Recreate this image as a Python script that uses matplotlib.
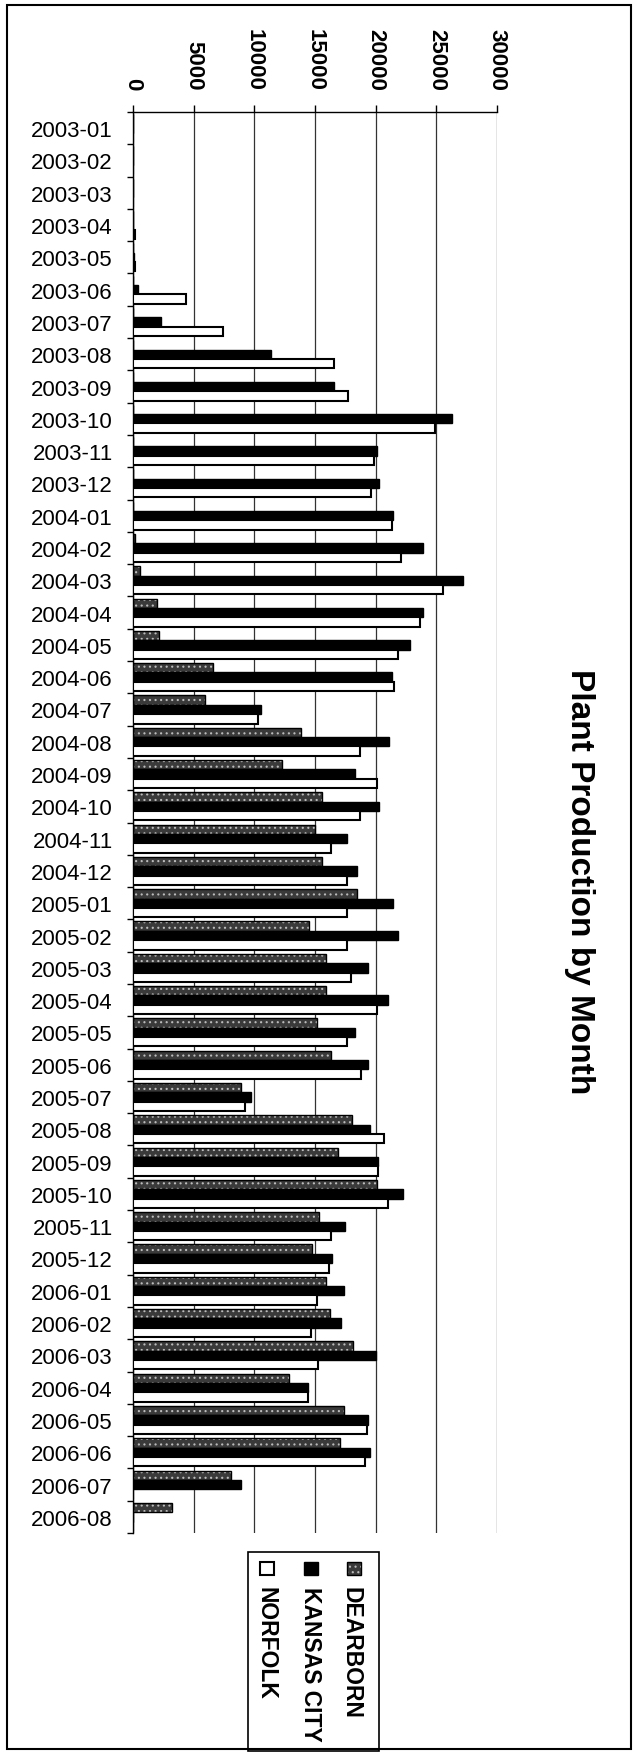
import matplotlib
matplotlib.use('Agg')
import matplotlib.pyplot as plt
import numpy as np
from matplotlib.patches import Rectangle

plt.rcParams['font.family'] = ['Liberation Sans', 'DejaVu Sans']
plt.rcParams['hatch.linewidth'] = 0.8

months = ['2003-01', '2003-02', '2003-03', '2003-04', '2003-05', '2003-06',
          '2003-07', '2003-08', '2003-09', '2003-10', '2003-11', '2003-12',
          '2004-01', '2004-02', '2004-03', '2004-04', '2004-05', '2004-06',
          '2004-07', '2004-08', '2004-09', '2004-10', '2004-11', '2004-12',
          '2005-01', '2005-02', '2005-03', '2005-04', '2005-05', '2005-06',
          '2005-07', '2005-08', '2005-09', '2005-10', '2005-11', '2005-12',
          '2006-01', '2006-02', '2006-03', '2006-04', '2006-05', '2006-06',
          '2006-07', '2006-08']

dearborn = [0, 0, 0, 0, 0, 0,
            0, 0, 0, 0, 0, 0,
            0, 150, 600, 1950, 2110, 6580,
            5910, 13830, 12250, 15600, 15040, 15600,
            18460, 14530, 15870, 15870, 15200, 16280,
            8930, 18090, 16910, 20100, 15340, 14730,
            15910, 16240, 18120, 12890, 17380, 17050,
            8050, 3190]

kansas_city = [0, 0, 0, 0, 100, 440,
               2280, 11400, 16580, 26280, 20070, 20240,
               21450, 23860, 27180, 23860, 22820, 21310,
               10570, 21110, 18320, 20240, 17620, 18490,
               21450, 21850, 19360, 20980, 18320, 19360,
               9730, 19570, 20200, 22220, 17450, 16440,
               17350, 17180, 20040, 14430, 19360, 19500,
               8930, 0]

norfolk = [0, 0, 0, 150, 150, 4360,
           7450, 16550, 17750, 24900, 19830, 19630,
           21340, 22080, 25570, 23660, 21880, 21550,
           10340, 18730, 20070, 18730, 16340, 17620,
           17620, 17620, 17950, 20070, 17620, 18830,
           9230, 20710, 20200, 21040, 16340, 16180,
           15170, 14670, 15240, 14400, 19300, 19130,
           0, 0]

value_ticks = [0, 5000, 10000, 15000, 20000, 25000, 30000]
series_names = ['DEARBORN', 'KANSAS CITY', 'NORFOLK']
title = 'Plant Production by Month'

W, H = 638, 1756
fig = plt.figure(figsize=(W / 100, H / 100), dpi=100)

def fx(px):
    return px / W

def fy(py):
    return 1 - py / H

ax_left, ax_right, ax_top, ax_bottom = 133, 497, 113, 1534
ax = fig.add_axes([fx(ax_left), fy(ax_bottom), (ax_right - ax_left) / W,
                   (ax_bottom - ax_top) / H])

y = np.arange(len(months))
bw = 0.29
dark_gray = '#3a3a3a'

# Dearborn: dark gray with light dots
ax.barh(y - bw, dearborn, height=bw, color=dark_gray, edgecolor='#bbbbbb',
        hatch='...', linewidth=0, zorder=2)
ax.barh(y - bw, dearborn, height=bw, fill=False, edgecolor='black',
        linewidth=1.0, zorder=3)
ax.barh(y, kansas_city, height=bw, color='black', edgecolor='black',
        linewidth=1.0, zorder=3)
ax.barh(y + bw, norfolk, height=bw, color='white', edgecolor='black',
        linewidth=1.5, zorder=3)

ax.set_xlim(0, 30000)
ax.set_ylim(len(months) - 0.5, -0.5)

ax.xaxis.tick_top()
ax.set_xticks(value_ticks)
ax.set_xticklabels([str(v) for v in value_ticks], fontsize=16,
                   fontweight='bold', rotation=-90)
ax.tick_params(axis='x', direction='out', length=5, width=1, pad=11,
               colors='black')

ax.set_yticks(y)
ax.set_yticklabels(months, fontsize=16)
ax.set_yticks(np.arange(len(months) + 1) - 0.5, minor=True)
ax.tick_params(axis='y', which='major', length=0, pad=14.5)
ax.tick_params(axis='y', which='minor', length=4.5, width=1, direction='out')

ax.set_axisbelow(True)
ax.grid(axis='x', color='#333333', linewidth=0.9, zorder=0)
ax.grid(axis='y', visible=False)
for side in ['right', 'bottom']:
    ax.spines[side].set_visible(False)
for side in ['left', 'top']:
    ax.spines[side].set_linewidth(1.0)
    ax.spines[side].set_color('black')

# Outer frame
fig.patches.append(Rectangle((fx(7), fy(1750)), (631 - 7) / W, (1750 - 6) / H,
                             transform=fig.transFigure, fill=False,
                             edgecolor='black', linewidth=1.5))

# Title (rotated)
fig.text(fx(580), fy(882), title, rotation=-90, ha='center', va='center',
         fontsize=24, fontweight='bold')

# Legend (rotated)
fig.patches.append(Rectangle((fx(248), fy(1752)), 131 / W, 199 / H,
                             transform=fig.transFigure, fill=False,
                             edgecolor='black', linewidth=1.2))
leg_x = [347, 304, 260]
txt_x = [351, 310, 266]
for i, name in enumerate(series_names):
    x0 = leg_x[i]
    rect_args = dict(xy=(fx(x0), fy(1576)), width=14 / W, height=13 / H,
                     transform=fig.transFigure)
    if i == 0:
        fig.patches.append(Rectangle(**rect_args, facecolor=dark_gray,
                                     edgecolor='#bbbbbb', hatch='...',
                                     linewidth=0))
        fig.patches.append(Rectangle(**rect_args, fill=False,
                                     edgecolor='black', linewidth=1.0))
    elif i == 1:
        fig.patches.append(Rectangle(**rect_args, facecolor='black',
                                     edgecolor='black', linewidth=1.0))
    else:
        fig.patches.append(Rectangle(**rect_args, facecolor='white',
                                     edgecolor='black', linewidth=1.5))
    fig.text(fx(txt_x[i]), fy(1587), name, rotation=-90, ha='center',
             va='top', fontsize=16.5, fontweight='bold')

fig.savefig('out.png', dpi=100)
